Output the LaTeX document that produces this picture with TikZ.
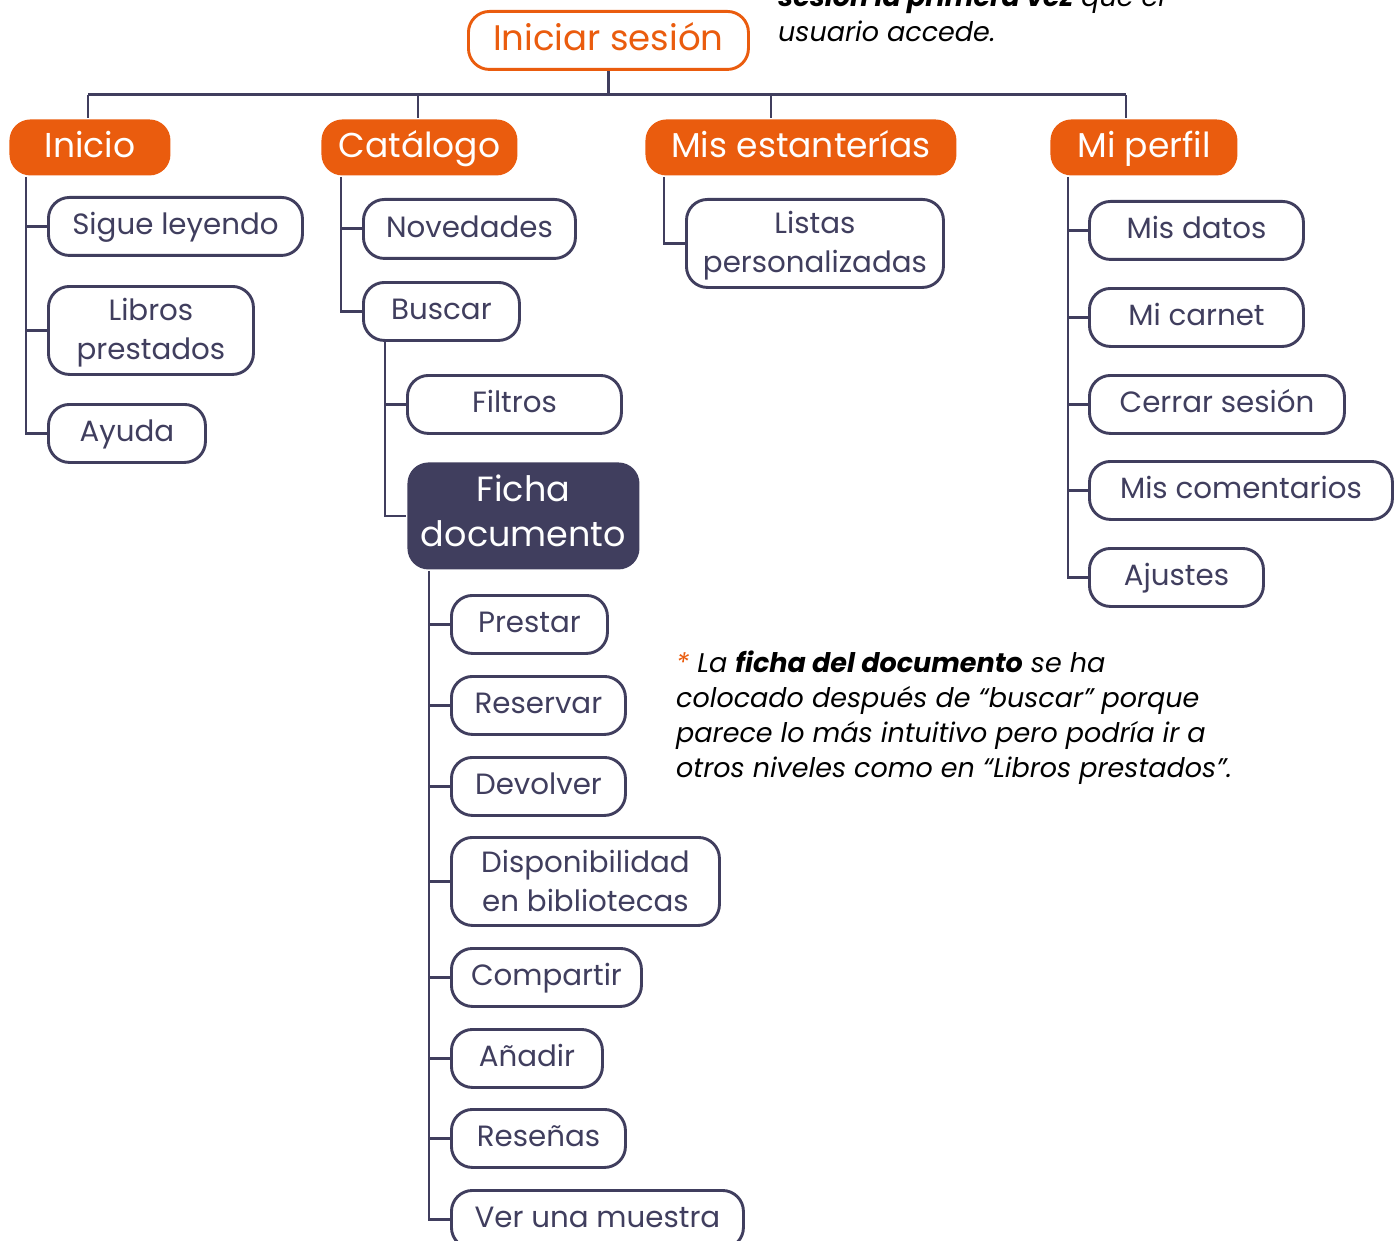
\documentclass[tikz,border=0pt]{standalone}
\usepackage{fontspec}
\setmainfont{Poppins}
\usetikzlibrary{calc}
\definecolor{naranja}{HTML}{EA5C0E}
\definecolor{tinta}{HTML}{403E5E}

\begin{document}
\begin{tikzpicture}[x=1pt,y=-1pt,
  caja/.style={rounded corners=21pt, line width=2.9pt, inner sep=0pt,
    anchor=north west, align=center},
  hoja/.style={caja, draw=tinta, fill=white, text=tinta,
    font=\fontsize{29.3}{39}\selectfont, text height=24pt, text depth=7pt},
  hoja2/.style={hoja, text height={}, text depth={}},
  cat/.style={caja, fill=naranja, text=white,
    font=\fontsize{34.5}{42}\selectfont, text height=28pt, text depth=8pt},
  raiz/.style={caja, draw=naranja, fill=white, text=naranja,
    font=\fontsize{35.5}{42}\selectfont, text height=28pt, text depth=8pt},
  ficha/.style={caja, fill=tinta, text=white,
    font=\fontsize{35}{45}\selectfont, text height=71pt, text depth=10pt},
  rama/.style={draw=tinta, line width=2.9pt},
  nota/.style={inner sep=0pt, anchor=base west, align=left,
    font=\fontsize{27}{35}\selectfont\itshape}]
\useasboundingbox (0,0) rectangle (1399,1241);

% root and first level
\node[raiz, minimum width=280pt, minimum height=58pt] (root) at (467,10) {Iniciar sesión};
\node[cat, minimum width=161pt, minimum height=56pt] (inicio) at (8,118) {Inicio};
\node[cat, minimum width=196pt, minimum height=56pt] (catalogo) at (320,118) {Catálogo};
\node[cat, minimum width=311pt, minimum height=56pt] (estant) at (644,118) {Mis estanterías};
\node[cat, minimum width=187pt, minimum height=56pt] (perfil) at (1049,118) {Mi perfil};

% Inicio
\node[hoja, minimum width=254pt, minimum height=58pt] (sigue) at (47,196) {Sigue leyendo};
\node[hoja2, text height=64pt, text depth=6pt, minimum width=205pt, minimum height=88pt] (libros) at (47,285) {Libros\\prestados};
\node[hoja, minimum width=157pt, minimum height=58pt] (ayuda) at (47,403) {Ayuda};

% Catálogo
\node[hoja, minimum width=212pt, minimum height=59pt] (noved) at (362,198) {Novedades};
\node[hoja, minimum width=156pt, minimum height=58pt] (buscar) at (362,281) {Buscar};
\node[hoja, minimum width=214pt, minimum height=58pt] (filtros) at (406,374) {Filtros};
\node[ficha, minimum width=232pt, minimum height=107pt] (fichadoc) at (406,461) {Ficha\\documento};
\node[hoja, minimum width=156pt, minimum height=58pt] (prestar) at (450,594) {Prestar};
\node[hoja, minimum width=174pt, minimum height=58pt] (reservar) at (450,675) {Reservar};
\node[hoja, minimum width=174pt, minimum height=58pt] (devolver) at (450,756) {Devolver};
\node[hoja2, minimum width=268pt, minimum height=88pt] (dispon) at (450,836) {Disponibilidad\\en bibliotecas};
\node[hoja, minimum width=190pt, minimum height=58pt] (compartir) at (450,947) {Compartir};
\node[hoja, minimum width=151pt, minimum height=58pt] (anadir) at (450,1028) {Añadir};
\node[hoja, minimum width=174pt, minimum height=58pt] (resenas) at (450,1108) {Reseñas};
\node[hoja, minimum width=292pt, minimum height=58pt] (muestra) at (450,1189) {Ver una muestra};

% Mis estanterías
\node[hoja2, text height=64pt, text depth=6pt, minimum width=257pt, minimum height=88pt] (listas) at (685,198) {Listas\\personalizadas};

% Mi perfil
\node[hoja, minimum width=214pt, minimum height=58pt] (misdatos) at (1088,200) {Mis datos};
\node[hoja, minimum width=214pt, minimum height=58pt] (carnet) at (1088,287) {Mi carnet};
\node[hoja, minimum width=255pt, minimum height=58pt] (cerrar) at (1088,374) {Cerrar sesión};
\node[hoja, minimum width=303pt, minimum height=58pt] (coment) at (1088,460) {Mis comentarios};
\node[hoja, minimum width=174pt, minimum height=58pt] (ajustes) at (1088,547) {Ajustes};

% connectors: root to the four sections
\coordinate (bI) at ($(inicio.north west)+(80,0)$);
\coordinate (bC) at ($(catalogo.north west)+(98,0)$);
\coordinate (bE) at ($(estant.north west)+(127,0)$);
\coordinate (bP) at ($(perfil.north west)+(77,0)$);
\draw[rama] (root.south) -- ++(0,24) coordinate (nudo);
\draw[rama] (bI |- nudo) -- (bP |- nudo);
\foreach \c in {bI,bC,bE,bP} \draw[rama] (\c |- nudo) -- (\c);

% trunks and stubs
\coordinate (tI) at ($(inicio.south west)+(18,0)$);
\draw[rama] (tI) |- (ayuda.west);
\foreach \n in {sigue,libros} \draw[rama] (\n.west -| tI) -- (\n.west);

\coordinate (tC) at ($(catalogo.south west)+(21,0)$);
\draw[rama] (tC) |- (buscar.west);
\draw[rama] (noved.west -| tC) -- (noved.west);

\coordinate (tB) at ($(buscar.south west)+(23,0)$);
\draw[rama] (tB) |- (fichadoc.west);
\draw[rama] (filtros.west -| tB) -- (filtros.west);

\coordinate (tF) at ($(fichadoc.south west)+(23,0)$);
\draw[rama] (tF) |- (muestra.west);
\foreach \n in {prestar,reservar,devolver,dispon,compartir,anadir,resenas}
  \draw[rama] (\n.west -| tF) -- (\n.west);

\coordinate (tE) at ($(estant.south west)+(20,0)$);
\draw[rama] (tE) |- (listas.west);

\coordinate (tP) at ($(perfil.south west)+(19,0)$);
\draw[rama] (tP) |- (ajustes.west);
\foreach \n in {misdatos,carnet,cerrar,coment}
  \draw[rama] (\n.west -| tP) -- (\n.west);

% notes (anchored at the baseline of their last line)
\node[nota] (notasup) at (778,42) {\textbf{sesión la primera vez} que el\\usuario accede.};
\node[nota] (notaficha) at (676,777) {{\color{naranja}*} La \textbf{ficha del documento} se ha\\
  colocado después de “buscar” porque\\
  parece lo más intuitivo pero podría ir a\\
  otros niveles como en “Libros prestados”.};
\end{tikzpicture}
\end{document}
